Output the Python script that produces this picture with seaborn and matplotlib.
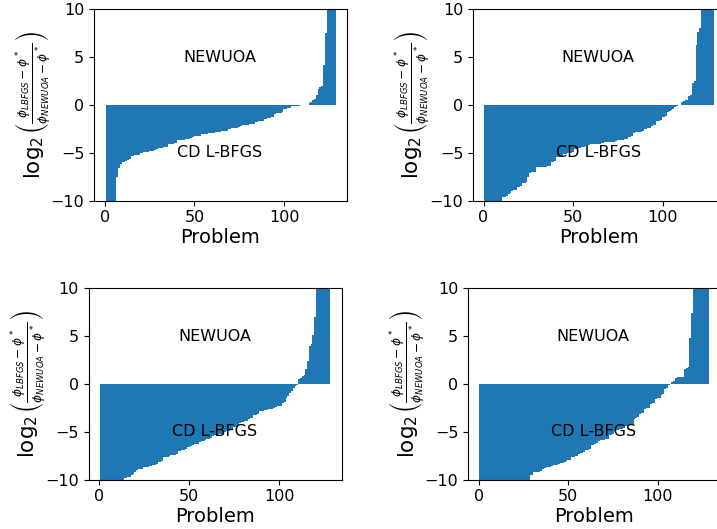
import numpy as np
import pandas as pd
import matplotlib
matplotlib.use("Agg")
import matplotlib.pyplot as plt
import seaborn as sns

# log2 ratio of final objective gaps (L-BFGS vs NEWUOA), sorted, one panel per test setting
problem = list(range(1, 129))

ratio_a = [
    -10, -10, -10, -10, -10, -10, -7.5, -6.6, -6.2, -6.0, -5.95, -5.85, -5.7, -5.6,
    -5.3, -5.28, -5.25, -5.22, -5.2,
    -5.0, -4.97, -4.93, -4.9, -4.87, -4.83, -4.8, -4.77, -4.73,
    -4.55, -4.52, -4.48, -4.45, -4.42, -4.38, -4.35,
    -4.12, -4.08, -4.05, -4.0, -3.95,
    -3.7, -3.67, -3.64, -3.61, -3.58, -3.55, -3.52, -3.5,
    -3.3, -3.28, -3.25, -3.22, -3.2,
    -3.05, -3.03, -3.0, -2.98, -2.96, -2.94, -2.92, -2.9,
    -2.8, -2.78, -2.77, -2.75, -2.73, -2.72, -2.7,
    -2.5, -2.48, -2.45, -2.43, -2.4, -2.38, -2.35,
    -2.15, -2.12, -2.1, -2.07, -2.05, -2.02, -2.0, -1.95,
    -1.75, -1.73, -1.7, -1.68, -1.65,
    -1.45, -1.42, -1.38, -1.34, -1.3, -1.25,
    -0.9, -0.87, -0.83, -0.79, -0.75,
    -0.45, -0.4, -0.35, -0.3,
    -0.1, -0.09, -0.08, -0.07, -0.06, -0.05, -0.04, -0.03, -0.02, -0.01,
    0.2, 0.35, 0.5, 0.6, 1.0, 1.7, 1.85, 2.0, 4.2, 7.5,
    10, 10, 10, 10, 10,
]

ratio_b = [
    -10, -10, -10, -10, -10, -10, -10, -10, -10, -10,
    -9.65, -9.6, -9.55, -9.25, -9.2, -8.95, -8.9, -8.85,
    -8.6, -8.55, -8.5, -8.15, -8.1, -8.05, -7.5,
    -7.1, -7.05, -7.0, -6.95,
    -6.5, -6.49, -6.47, -6.46, -6.44, -6.43, -6.42, -6.4,
    -6.0, -5.95, -5.9, -5.45, -5.4, -5.4, -5.35,
    -5.1, -5.07, -5.04, -5.01, -4.98, -4.95,
    -4.6, -4.55, -4.5, -4.45, -4.4, -4.35, -4.3,
    -4.15, -4.13, -4.12, -4.1, -4.08, -4.07, -4.05, -4.03, -4.02, -4.0,
    -3.9, -3.88, -3.87, -3.85, -3.83, -3.82, -3.8,
    -3.7, -3.67, -3.64, -3.61, -3.58, -3.55,
    -3.35, -3.3, -3.25,
    -2.9, -2.87, -2.84, -2.81, -2.78, -2.75,
    -2.5, -2.47, -2.43, -2.4,
    -2.15, -2.1, -2.05, -1.7, -1.62, -1.55, -1.3, -1.25, -1.2,
    -0.75, -0.65, -0.5, -0.4, -0.2, -0.08, -0.05, -0.02,
    0.3, 0.45, 0.5, 0.55, 0.95, 1.05, 2.3, 2.5, 6.3, 7.6, 8.0,
    10, 10, 10, 10, 10, 10, 10,
]

ratio_c = [
    -10, -10, -10, -10, -10, -10, -10, -10, -10, -10, -10, -10, -10,
    -9.85, -9.8, -9.75, -9.7, -9.5, -9.45, -9.15,
    -8.95, -8.9, -8.9, -8.85, -8.7, -8.65, -8.65, -8.6, -8.6,
    -8.45, -8.45, -8.4, -8.15, -8.1, -8.05,
    -7.65, -7.6, -7.6, -7.55, -7.45, -7.4, -7.4, -7.35,
    -7.0, -6.95, -6.9, -6.85, -6.8, -6.6, -6.55, -6.5,
    -6.35, -6.3, -6.3, -6.25, -6.05, -6.0, -5.95, -5.9,
    -5.75, -5.7, -5.65, -5.4, -5.35, -5.3, -5.3, -5.25, -5.2,
    -5.05, -5.0, -4.95, -4.9, -4.85, -4.7, -4.5, -4.45, -4.4,
    -4.05, -4.0, -3.95, -3.9, -3.85, -3.65, -3.6, -3.55,
    -3.25, -3.2, -3.15, -2.85, -2.8, -2.8, -2.75, -2.7,
    -2.65, -2.6, -2.6, -2.55, -2.4, -2.35, -2.3, -2.25,
    -2.0, -1.85, -1.5, -1.3, -0.95, -0.7, -0.45, -0.25, -0.1,
    0.55, 0.6, 0.85, 0.9, 1.55, 2.45, 4.0, 4.2, 5.1, 7.0,
    10, 10, 10, 10, 10, 10, 10, 10,
]

ratio_d = [
    -10, -10, -10, -10, -10, -10, -10, -10, -10, -10, -10, -10, -10, -10,
    -10, -10, -10, -10, -10, -10, -10, -10, -10, -10, -10, -10, -10, -10,
    -9.55, -9.5, -9.2, -9.2, -9.15, -9.15, -9.1, -8.9,
    -8.75, -8.7, -8.7, -8.65, -8.6, -8.5, -8.45, -8.45, -8.4,
    -8.3, -8.25, -8.2, -8.0, -7.95, -7.9,
    -7.65, -7.6, -7.55, -7.5, -7.3, -7.25, -7.2, -7.15,
    -6.9, -6.85, -6.8, -6.4, -6.35, -6.3, -6.2,
    -5.95, -5.9, -5.85, -5.8, -5.75, -5.7, -5.35, -5.3, -5.25,
    -4.9, -4.85, -4.8, -4.75, -4.7, -4.6, -4.4, -4.35, -4.3, -4.25, -4.2,
    -3.7, -3.6, -3.5, -3.1, -3.05, -3.0, -2.6, -2.55, -2.5,
    -2.05, -2.0, -1.95, -1.55, -1.5, -1.45, -1.15, -1.05,
    -0.5, -0.4, -0.15, -0.05,
    0.25, 0.3, 0.65, 0.7, 0.7, 0.72, 0.75, 1.6, 1.65, 1.8, 4.8, 7.4,
    10, 10, 10, 10, 10, 10, 10, 10, 10,
]

panels = [ratio_a, ratio_b, ratio_c, ratio_d]

# axes boxes in pixels: left, right, top, bottom
W, H = 717, 529
boxes = [
    (94, 347, 9.3, 200.7),
    (473, 725, 9.3, 200.7),
    (88.7, 342, 288.3, 479.7),
    (468, 720.5, 288.3, 479.7),
]

# y label drawn in two pieces: the log prefix and the bracketed ratio
ylab_log = r'$\log_2$'
ylab_ratio = r'$\left(\frac{\phi_{LBFGS}-\phi^*}{\phi_{NEWUOA}-\phi^*}\right)$'

fig = plt.figure(figsize=(W / 100, H / 100), dpi=100)
for vals, (l, r, t, b) in zip(panels, boxes):
    ax = fig.add_axes([l / W, 1 - b / H, (r - l) / W, (b - t) / H])
    df = pd.DataFrame({"problem": problem, "ratio": vals})
    sns.barplot(data=df, x="problem", y="ratio", native_scale=True, orient="x",
                width=1.0, color="#1f77b4", saturation=1, linewidth=0,
                errorbar=None, ax=ax)
    n = len(vals)
    ax.set_xlim(0.5 - 0.05 * n, n + 0.5 + 0.05 * n)
    ax.set_ylim(-10, 10)
    ax.set_xticks([0, 50, 100])
    ax.set_yticks([-10, -5, 0, 5, 10])
    ax.tick_params(labelsize=11.5)
    ax.set_xlabel("Problem", fontsize=14, labelpad=1.5)
    ax.set_ylabel("")
    ax.text(n / 2, 5, "NEWUOA", ha="center", va="center", fontsize=11.5)
    ax.text(n / 2, -5, "CD L-BFGS", ha="center", va="center", fontsize=11.5)

    xc = (l - 60.5) / W
    yc = (t + b) / 2
    fig.text(xc, 1 - (yc + 52) / H, ylab_log, rotation=90,
             ha="center", va="center", fontsize=15.5)
    fig.text(xc, 1 - (yc - 22) / H, ylab_ratio, rotation=90,
             ha="center", va="center", fontsize=12.5)

fig.savefig("out.png", dpi=100)
